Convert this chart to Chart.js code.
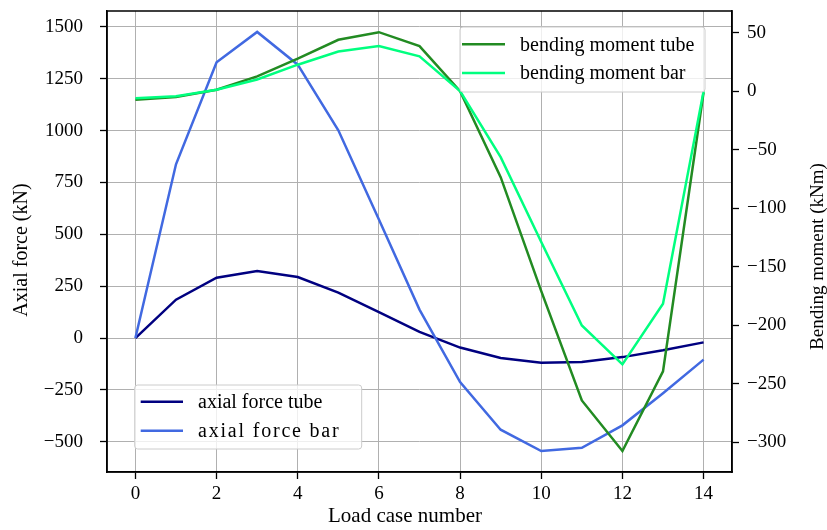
<!DOCTYPE html>
<html>
<head>
<meta charset="utf-8">
<script src="https://cdn.jsdelivr.net/npm/chart.js@4.4.1/dist/chart.umd.min.js"></script>
<style>
  html, body { margin: 0; padding: 0; background: #ffffff; }
  #wrap { width: 827px; height: 530px; }
</style>
</head>
<body>
<div id="wrap"><canvas id="c" width="827" height="530"></canvas></div>
<script>
// ---- data ----
const loadCases = [0, 1, 2, 3, 4, 5, 6, 7, 8, 9, 10, 11, 12, 13, 14];
const axialForceTube = [0, 185, 291, 323, 294, 219, 125, 30, -46, -96, -119, -116, -92, -59, -21];
const axialForceBar = [0, 838, 1330, 1476, 1318, 1002, 572, 137, -212, -442, -545, -529, -421, -266, -104];
const bendingMomentTube = [-7.4, -5.1, 1.2, 12.6, 27.7, 43.9, 50.4, 38.5, 0, -73.5, -171, -264.4, -307.7, -239.6, -1];
const bendingMomentBar = [-6.0, -4.3, 1.2, 10.0, 22.6, 33.9, 38.5, 29.7, 0, -56.4, -129, -200.3, -233.6, -181.7, 0];
const xTicks = [0, 2, 4, 6, 8, 10, 12, 14];
const leftTicks = [-500, -250, 0, 250, 500, 750, 1000, 1250, 1500];
const rightTicks = [-300, -250, -200, -150, -100, -50, 0, 50];
const seriesLabels = ['axial force tube', 'axial force bar', 'bending moment tube', 'bending moment bar'];
const xTitle = 'Load case number';
const yLeftTitle = 'Axial force (kN)';
const yRightTitle = 'Bending moment (kNm)';

const FONT = "'Liberation Serif', 'Times New Roman', serif";
const toPts = arr => arr.map((v, i) => ({ x: loadCases[i], y: v }));
const fmt = v => String(v).replace('-', '\u2212');
const setTicks = list => scale => { scale.ticks = list.map(v => ({ value: v })); };
const fitBox = (w, h) => s => {
  if (w !== null) s.width = w;
  if (h !== null) s.height = h;
  s.paddingTop = 0; s.paddingBottom = 0; s.paddingLeft = 0; s.paddingRight = 0;
};

function drawLegend(ctx, chart, idxs, box, lineX0, lineX1, rows, textX, spacings) {
  ctx.save();
  const [x0, y0, x1, y1] = box;
  const r = 3;
  ctx.beginPath();
  ctx.moveTo(x0 + r, y0);
  ctx.lineTo(x1 - r, y0); ctx.quadraticCurveTo(x1, y0, x1, y0 + r);
  ctx.lineTo(x1, y1 - r); ctx.quadraticCurveTo(x1, y1, x1 - r, y1);
  ctx.lineTo(x0 + r, y1); ctx.quadraticCurveTo(x0, y1, x0, y1 - r);
  ctx.lineTo(x0, y0 + r); ctx.quadraticCurveTo(x0, y0, x0 + r, y0);
  ctx.closePath();
  ctx.fillStyle = 'rgba(255,255,255,0.8)';
  ctx.fill();
  ctx.strokeStyle = '#cccccc';
  ctx.lineWidth = 1;
  ctx.stroke();
  ctx.font = '20px ' + FONT;
  ctx.textBaseline = 'middle';
  ctx.textAlign = 'left';
  idxs.forEach((di, k) => {
    const ds = chart.data.datasets[di];
    ctx.strokeStyle = ds.borderColor;
    ctx.lineWidth = 2.5;
    ctx.beginPath();
    ctx.moveTo(lineX0, rows[k]);
    ctx.lineTo(lineX1, rows[k]);
    ctx.stroke();
    ctx.fillStyle = '#000000';
    if ('letterSpacing' in ctx) ctx.letterSpacing = (spacings && spacings[k]) ? spacings[k] : '0px';
    ctx.fillText(ds.label, textX, rows[k] + 1);
  });
  ctx.restore();
}

function drawText(ctx, text, x, y, size, rot) {
  ctx.save();
  ctx.translate(x, y);
  ctx.rotate(rot);
  ctx.font = size + 'px ' + FONT;
  ctx.fillStyle = '#000';
  ctx.textAlign = 'center';
  ctx.textBaseline = 'middle';
  ctx.fillText(text, 0, 0);
  ctx.restore();
}

const legendsPlugin = {
  id: 'twoLegends',
  afterDatasetDraw(chart, args) {
    if (args.index === 1) {
      drawLegend(chart.ctx, chart, [0, 1], [134.7, 385, 361.7, 449], 140.7, 183, [401.7, 430.7], 198, ['0px', '1.8px']);
    }
  },
  afterDatasetsDraw(chart) {
    drawLegend(chart.ctx, chart, [2, 3], [460, 27, 705, 92], 462, 505, [44.3, 73], 520, null);
  },
  afterDraw(chart) {
    const a = chart.chartArea;
    const ctx = chart.ctx;
    ctx.save();
    ctx.strokeStyle = '#000000';
    ctx.lineWidth = 1.5;
    ctx.strokeRect(a.left, a.top, a.right - a.left, a.bottom - a.top);
    ctx.restore();
    drawText(ctx, xTitle, 405, 516, 21, 0);
    drawText(ctx, yLeftTitle, 21.7, 250, 20, -Math.PI / 2);
    drawText(ctx, yRightTitle, 818, 256.5, 19, -Math.PI / 2);
  }
};

const common = { fill: false, pointRadius: 0, borderWidth: 2.5, tension: 0 };

new Chart(document.getElementById('c'), {
  type: 'line',
  data: {
    datasets: [
      { ...common, label: seriesLabels[0], data: toPts(axialForceTube), borderColor: '#000080', yAxisID: 'yL', order: 3 },
      { ...common, label: seriesLabels[1], data: toPts(axialForceBar), borderColor: '#4169e1', yAxisID: 'yL', order: 2 },
      { ...common, label: seriesLabels[2], data: toPts(bendingMomentTube), borderColor: '#228b22', yAxisID: 'yR', order: 1 },
      { ...common, label: seriesLabels[3], data: toPts(bendingMomentBar), borderColor: '#00ff7f', yAxisID: 'yR', order: 0 }
    ]
  },
  options: {
    responsive: false,
    animation: false,
    layout: { padding: { top: 11, left: 0, right: 0, bottom: 0 } },
    plugins: { legend: { display: false }, tooltip: { enabled: false } },
    scales: {
      x: {
        type: 'linear', position: 'bottom', min: -0.7, max: 14.7,
        afterFit: fitBox(null, 58),
        afterBuildTicks: setTicks(xTicks),
        ticks: { color: '#000', padding: 4, font: { family: FONT, size: 19 }, callback: v => fmt(v) },
        grid: { color: '#b0b0b0', lineWidth: 1, tickColor: '#000', tickLength: 7, tickWidth: 1.3 },
        border: { display: true, color: '#000', width: 1.5 }
      },
      yL: {
        type: 'linear', position: 'left', min: -646, max: 1577,
        afterFit: fitBox(107, null),
        afterBuildTicks: setTicks(leftTicks),
        ticks: { color: '#000', padding: 17, font: { family: FONT, size: 19 }, callback: v => fmt(v) },
        grid: { color: '#b0b0b0', lineWidth: 1, tickColor: '#000', tickLength: 7, tickWidth: 1.3 },
        border: { display: true, color: '#000', width: 1.5 }
      },
      yR: {
        type: 'linear', position: 'right', min: -325.6, max: 68.5,
        afterFit: fitBox(95, null),
        afterBuildTicks: setTicks(rightTicks),
        ticks: { color: '#000', padding: 8, font: { family: FONT, size: 19 }, callback: v => fmt(v) },
        grid: { display: true, drawOnChartArea: false, drawTicks: true, tickColor: '#000', tickLength: 7, tickWidth: 1.3 },
        border: { display: true, color: '#000', width: 1.5 }
      }
    }
  },
  plugins: [legendsPlugin]
});
</script>
</body>
</html>
